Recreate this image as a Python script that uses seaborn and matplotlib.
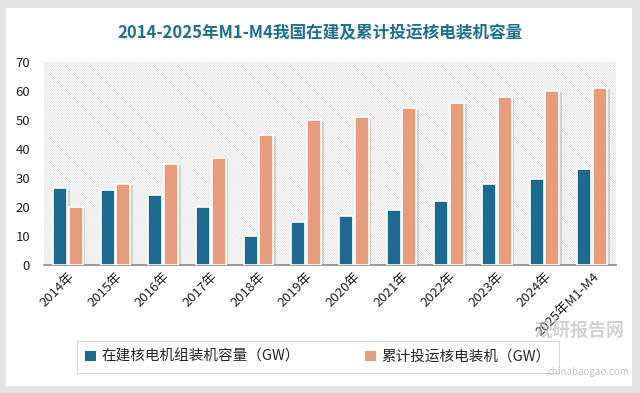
import pandas as pd
import seaborn as sns
import matplotlib.pyplot as plt
from matplotlib.patches import Rectangle, Patch
import matplotlib.patheffects as pe

years = ['2014年', '2015年', '2016年', '2017年', '2018年', '2019年', '2020年',
         '2021年', '2022年', '2023年', '2024年', '2025年M1-M4']
building = [26.4, 26, 24, 20, 10, 15, 17, 19, 22, 28, 29.8, 33]
operating = [20, 28, 35, 37, 45, 50, 51, 54, 56, 58, 60, 61]
series = ['在建核电机组装机容量（GW）', '累计投运核电装机（GW）']
colors = ['#1c6b8f', '#e79c7b']

df = pd.DataFrame({
    'year': years * 2,
    'value': building + operating,
    'series': [series[0]] * len(years) + [series[1]] * len(years),
})

sns.set_theme(style='white')
plt.rcParams['font.family'] = ['Noto Sans CJK SC', 'DejaVu Sans']
plt.rcParams['hatch.linewidth'] = 0.5

fig = plt.figure(figsize=(6.4, 3.93), dpi=100)
fig.patch.set_facecolor('#e4e4e4')
fig.patches.append(Rectangle((6 / 640, 1 - 386 / 393), 626 / 640, 378 / 393,
                             transform=fig.transFigure, facecolor='white',
                             edgecolor='none', zorder=-5))

ax = fig.add_axes([44 / 640, 1 - 265 / 393, 572 / 640, 203 / 393])
ax.patch.set_facecolor('white')
ax.patch.set_edgecolor('#dcdcdc')
ax.patch.set_hatch('\\' * 14)
ax.patch.set_linewidth(0)

sns.barplot(data=df, x='year', y='value', hue='series', palette=colors,
            saturation=1, width=0.66, gap=0.12, edgecolor='white', linewidth=1.2,
            legend=False, ax=ax, zorder=3)

for bar in ax.patches:
    bar.set_path_effects([pe.SimplePatchShadow(offset=(2, -1), shadow_rgbFace='#9a9a9a', alpha=0.35),
                          pe.Normal()])

ax.set_ylim(0, 70)
ax.set_yticks(range(0, 71, 10))
ax.set_xlim(-0.5, len(years) - 0.5)
ax.set_xlabel('')
ax.set_ylabel('')
for s in ['top', 'right', 'left']:
    ax.spines[s].set_visible(False)
ax.spines['bottom'].set_color('#8c8c8c')
ax.spines['bottom'].set_linewidth(1.2)
ax.tick_params(axis='both', length=0, labelsize=9.5, colors='#222222')
ax.tick_params(axis='y', pad=10)
plt.setp(ax.get_xticklabels(), rotation=45, ha='right', rotation_mode='anchor')

fig.text(0.5, 1 - 33 / 393, '2014-2025年M1-M4我国在建及累计投运核电装机容量',
         ha='center', va='center', fontsize=12, fontweight='bold', color='#1f6f8f')

# watermark
fig.text(0.835, 1 - 330 / 393, '观研报告网', fontsize=13, fontweight='bold',
         color='#b5b5b5', alpha=0.6, ha='left', va='center', zorder=10)
fig.text(0.855, 1 - 372 / 393, 'chinabaogao.com', fontsize=7,
         color='#b5b5b5', alpha=0.8, ha='left', va='center', zorder=10)

handles = [Patch(facecolor=c, edgecolor='none') for c in colors]
leg = fig.legend(handles, series, loc='center', bbox_to_anchor=(318 / 640, 1 - 357 / 393),
                 ncol=2, frameon=True, fontsize=10.5, handlelength=0.7, handleheight=0.7,
                 handletextpad=0.4, columnspacing=4.5, borderpad=0.6, fancybox=False)
leg.get_frame().set_edgecolor('#cfcfcf')
leg.get_frame().set_linewidth(0.8)

fig.savefig('out.png', dpi=100, facecolor=fig.get_facecolor())
